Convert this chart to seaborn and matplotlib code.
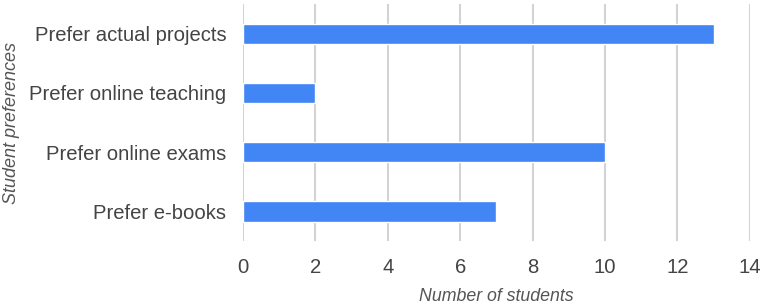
import matplotlib
matplotlib.use("Agg")
import matplotlib.pyplot as plt
import seaborn as sns
import pandas as pd

categories = ["Prefer actual projects", "Prefer online teaching", "Prefer online exams", "Prefer e-books"]
values = [13, 2, 10, 7]
x_ticks = [0, 2, 4, 6, 8, 10, 12, 14]

sns.set_theme(style="white")
plt.rcParams['font.family'] = ['Liberation Sans', 'DejaVu Sans']

df = pd.DataFrame({"pref": categories, "n": values})

fig = plt.figure(figsize=(7.65, 3.04), dpi=100)
ax = fig.add_axes([0.3176, 0.207, 0.6624, 0.780])
sns.barplot(data=df, x="n", y="pref", orient="h", color="#4285F4", width=0.34,
            saturation=1, ax=ax, zorder=3)
ax.set_xlim(0, 14)
ax.set_ylim(3.5, -0.5)
ax.set_xticks(x_ticks)
ax.xaxis.grid(True, color="#d3d3d3", linewidth=1.5, zorder=0)
ax.yaxis.grid(False)
for s in ax.spines.values():
    s.set_visible(False)
ax.tick_params(axis="both", length=0, labelsize=14.6, labelcolor="#444444")
ax.tick_params(axis="x", pad=12)
ax.tick_params(axis="y", pad=12)
ax.set_xlabel("Number of students", fontsize=12.8, fontstyle="italic", color="#555555")
ax.set_ylabel("Student preferences", fontsize=13, fontstyle="italic", color="#555555")
ax.xaxis.set_label_coords(0.5, -0.232)
ax.yaxis.set_label_coords(-0.456, 0.5)
ax.xaxis.label.set_va("center")
ax.yaxis.label.set_va("center")
fig.savefig("out.png", dpi=100)
